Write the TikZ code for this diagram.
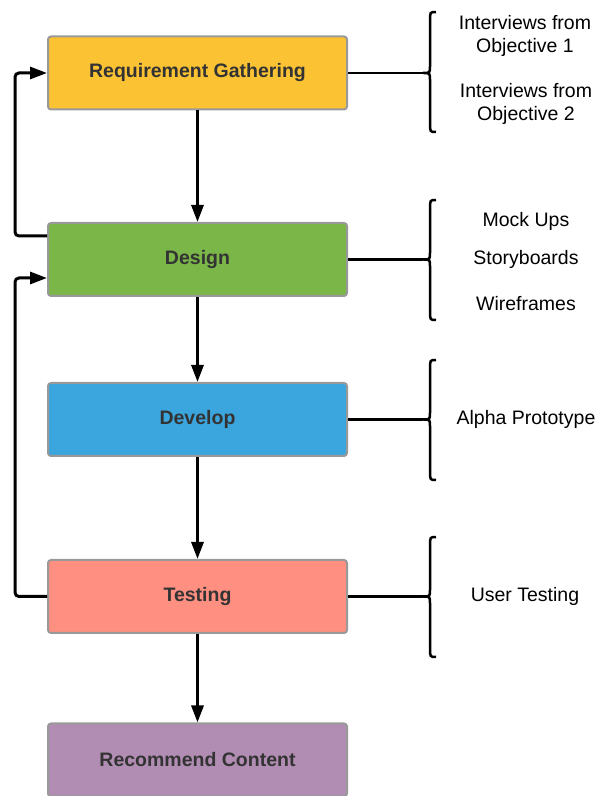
\documentclass[tikz,border=0pt]{standalone}
\usepackage{fontspec}
\setmainfont{Liberation Sans}
\usetikzlibrary{arrows.meta}
\definecolor{rgyellow}{HTML}{FBC334}
\definecolor{dsgreen}{HTML}{7AB648}
\definecolor{dvblue}{HTML}{3AA6DD}
\definecolor{tssalmon}{HTML}{FF8F80}
\definecolor{rcpurple}{HTML}{B28DB3}
\definecolor{boxline}{HTML}{999999}
\definecolor{boxtext}{HTML}{333333}
\tikzset{
  phase/.style={draw=boxline, line width=2pt, rounded corners=3pt,
    minimum width=299pt, minimum height=73pt,
    font=\fontsize{19.5}{22}\selectfont\bfseries, text=boxtext},
  flow/.style={line width=3pt, -{Triangle[width=12pt,length=17pt]}},
  fb/.style={flow, rounded corners=4pt},
  tie/.style={line width=2.5pt},
  item/.style={font=\fontsize{19.5}{23}\selectfont, align=center}
}
% curly brace: spine x, top y, middle y, bottom y
\newcommand{\curlyat}[4]{%
  \draw[tie] (#1+6,#2) .. controls (#1,#2) .. (#1,#2-9) -- (#1,#3+7)
    .. controls (#1,#3) .. (#1-7,#3) .. controls (#1,#3) .. (#1,#3-7)
    -- (#1,#4+9) .. controls (#1,#4) .. (#1+6,#4);}
\begin{document}
\begin{tikzpicture}[x=1pt,y=1pt]
        \useasboundingbox (0,0) rectangle (600,796);
        % phases
        \node[phase, fill=rgyellow] (rg) at (197.5,723) {Requirement Gathering};
        \node[phase, fill=dsgreen] (design) at (197.5,536.5) {Design};
        \node[phase, fill=dvblue] (develop) at (197.5,376.5) {Develop};
        \node[phase, fill=tssalmon] (testing) at (197.5,199.5) {Testing};
        \node[phase, fill=rcpurple] (recommend) at (197.5,36) {Recommend Content};
        % forward flow
        \draw[flow] (rg) -- (design);
        \draw[flow] (design) -- (develop);
        \draw[flow] (develop) -- (testing);
        \draw[flow] (testing) -- (recommend);
        % feedback loops
        \draw[fb] ([yshift=23.5pt]design.west) -- ++(-32,0) |- (rg.west);
        \draw[fb] (testing.west) -- ++(-32,0) |- ([yshift=-18.5pt]design.west);
        % braces
        \curlyat{430}{784}{723}{664}
        \curlyat{430}{596}{536.5}{476}
        \curlyat{430}{436}{376.5}{316}
        \curlyat{430}{259}{199.5}{139}
        \coordinate (tip1) at (423,723);
        \coordinate (tip2) at (423,536.5);
        \coordinate (tip3) at (423,376.5);
        \coordinate (tip4) at (423,199.5);
        \draw[tie] (rg.east) -- (tip1);
        \draw[tie] (design.east) -- (tip2);
        \draw[tie] (develop.east) -- (tip3);
        \draw[tie] (testing.east) -- (tip4);
        % items
        \node[item] (obj1) at (525,760.5) {Interviews from\\Objective 1};
        \node[item] (obj2) at (526,692.5) {Interviews from\\Objective 2};
        \node[item] (mock) at (526,575) {Mock Ups};
        \node[item] (story) at (526,537) {Storyboards};
        \node[item] (wire) at (526,492) {Wireframes};
        \node[item] (alpha) at (526,377) {Alpha Prototype};
        \node[item] (user) at (525,200) {User Testing};
\end{tikzpicture}
\end{document}
